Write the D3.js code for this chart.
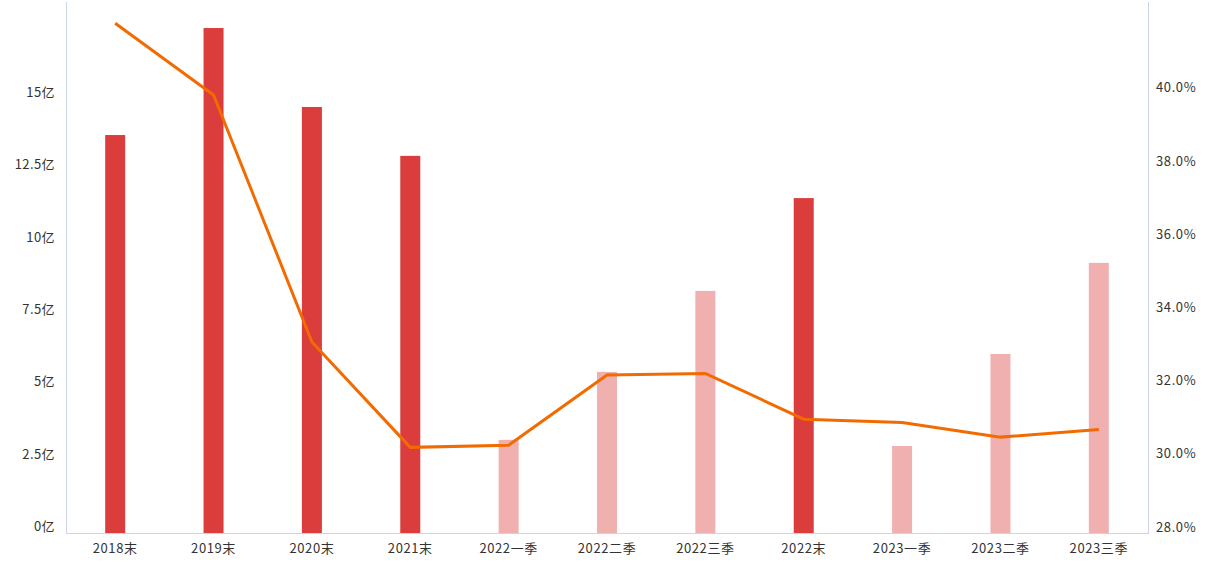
<!DOCTYPE html>
<html>
<head>
<meta charset="utf-8">
<script src="https://cdn.jsdelivr.net/npm/d3@7"></script>
<style>
  html, body { margin: 0; padding: 0; background: #fff; }
  svg { display: block; }
  text { font-family: "Noto Sans CJK SC", "Noto Sans", sans-serif; fill: #333; }
</style>
</head>
<body>
<svg id="chart" width="1216" height="567"></svg>
<script>
const categories = ["2018末", "2019末", "2020末", "2021末", "2022一季", "2022二季", "2022三季", "2022末", "2023一季", "2023二季", "2023三季"];
const amounts = [13.76, 17.46, 14.73, 13.04, 3.22, 5.57, 8.37, 11.58, 3.01, 6.19, 9.34]; // 亿
const ratios = [41.93, 39.97, 33.22, 30.34, 30.40, 32.32, 32.36, 31.11, 31.02, 30.62, 30.83]; // %
const leftTicks = [0, 2.5, 5, 7.5, 10, 12.5, 15];
const rightTicks = [28, 30, 32, 34, 36, 38, 40];

(function () {
const svg = d3.select("#chart");
const pL = 66, pR = 1148, pT = 2, pB = 533;

const x = d3.scaleBand().domain(categories).range([pL, pR]).paddingInner(0).paddingOuter(0);
const yL = d3.scaleLinear().domain([0, 18.36]).range([pB, pT]);
const yR = d3.scaleLinear().domain([28, 42.51]).range([pB, pT]);

const axisColor = "#c9d6ea";
const fontFam = '"Noto Sans CJK SC", sans-serif';

// bars
const barW = 20;
svg.append("g").selectAll("rect").data(categories).join("rect")
  .attr("x", d => x(d) + x.bandwidth() / 2 - barW / 2)
  .attr("width", barW)
  .attr("y", (d, i) => yL(amounts[i]))
  .attr("height", (d, i) => yL(0) - yL(amounts[i]))
  .attr("fill", d => d.endsWith("末") ? "#db3c3c" : "#f0b0b0");

// axes lines
svg.append("line").attr("x1", pL + 0.5).attr("x2", pL + 0.5).attr("y1", pT).attr("y2", pB)
  .attr("stroke", axisColor).attr("stroke-width", 1);
svg.append("line").attr("x1", pR + 0.5).attr("x2", pR + 0.5).attr("y1", pT).attr("y2", pB)
  .attr("stroke", axisColor).attr("stroke-width", 1);
svg.append("line").attr("x1", pL).attr("x2", pR + 1).attr("y1", pB + 0.5).attr("y2", pB + 0.5)
  .attr("stroke", axisColor).attr("stroke-width", 1);

// left tick labels
const gL = svg.append("g").attr("transform", `translate(${pL},0)`)
  .call(d3.axisLeft(yL).tickValues(leftTicks).tickSize(0).tickPadding(11).tickFormat(d => d + "亿"));
gL.select(".domain").remove();
gL.selectAll("text").attr("dy", "-0.2em").style("font-size", "13px").style("letter-spacing", "0.4px")
  .style("font-family", fontFam).attr("fill", "#333");

// right tick labels
const gR = svg.append("g").attr("transform", `translate(${pR},0)`)
  .call(d3.axisRight(yR).tickValues(rightTicks).tickSize(0).tickPadding(8).tickFormat(d => d.toFixed(1) + "%"));
gR.select(".domain").remove();
gR.selectAll("text").attr("dy", "-0.15em").style("font-size", "13px").style("letter-spacing", "0.6px")
  .style("font-family", fontFam).attr("fill", "#333");

// bottom labels
const gB = svg.append("g").attr("transform", `translate(0,${pB})`)
  .call(d3.axisBottom(x).tickSize(0).tickPadding(11));
gB.select(".domain").remove();
gB.selectAll("text").style("font-size", "13px").style("letter-spacing", "0.6px")
  .style("font-family", fontFam).attr("fill", "#333");

// line
const line = d3.line()
  .x((d, i) => x(categories[i]) + x.bandwidth() / 2)
  .y(d => yR(d));
svg.append("path").datum(ratios)
  .attr("d", line)
  .attr("fill", "none")
  .attr("stroke", "#f26b00")
  .attr("stroke-width", 3)
  .attr("stroke-linejoin", "miter");
})();
</script>
</body>
</html>
